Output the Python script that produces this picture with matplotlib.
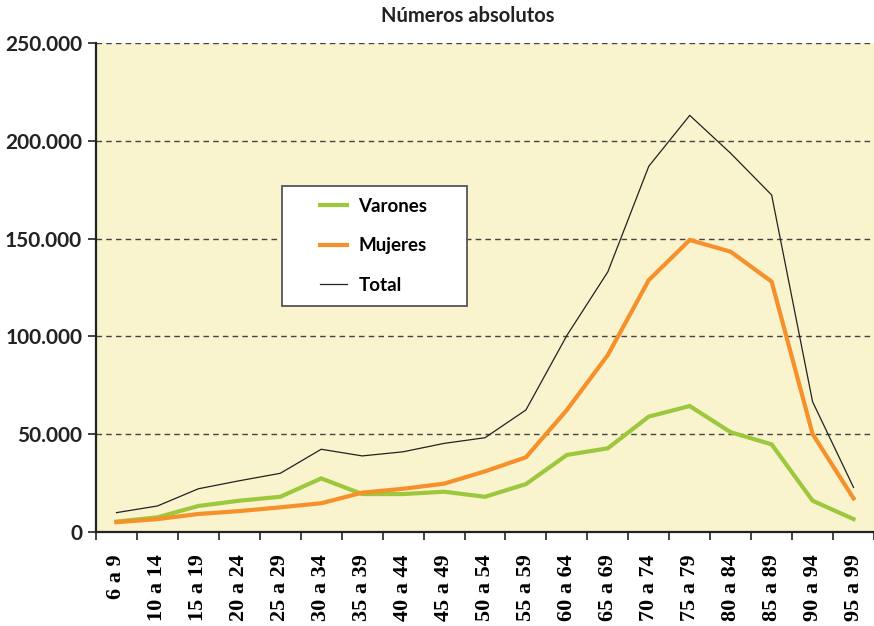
import matplotlib
matplotlib.use('Agg')
import matplotlib.pyplot as plt
from matplotlib.patches import Rectangle
from matplotlib.ticker import FuncFormatter
import numpy as np

# age groups
grupos = ['6 a 9', '10 a 14', '15 a 19', '20 a 24', '25 a 29', '30 a 34', '35 a 39',
          '40 a 44', '45 a 49', '50 a 54', '55 a 59', '60 a 64', '65 a 69', '70 a 74',
          '75 a 79', '80 a 84', '85 a 89', '90 a 94', '95 a 99']

varones = [5300, 7500, 13300, 16000, 18000, 27400, 19400, 19400, 20600, 18000,
           24500, 39400, 42800, 59000, 64400, 51000, 44800, 16000, 6600]
mujeres = [5000, 6600, 9200, 10700, 12600, 14700, 20100, 22100, 24700, 31000,
           38200, 62400, 90500, 128800, 149300, 143300, 128000, 50100, 17200]
total = [9900, 13300, 22100, 26200, 30000, 42300, 38900, 41000, 45300, 48200,
         62400, 100500, 133000, 187000, 213000, 193600, 172300, 66600, 22800]

y_ticks = [0, 50000, 100000, 150000, 200000, 250000]

fig = plt.figure(figsize=(8.74, 6.26), dpi=100)
fig.patch.set_facecolor('white')
ax = fig.add_axes([96/874, 94/626, 778/874, 489/626])
ax.set_facecolor('#F9F3CE')

x = np.arange(len(grupos))
ax.plot(x, varones, color='#9DC73C', lw=3.0, label='Varones', solid_joinstyle='miter', zorder=3)
ax.plot(x, mujeres, color='#F5902A', lw=3.0, label='Mujeres', solid_joinstyle='miter', zorder=3)
ax.plot(x, total, color='#222222', lw=0.9, label='Total', zorder=3)

ax.set_xlim(-0.5, len(grupos) - 0.5)
ax.set_ylim(0, 250000)

for v in y_ticks[1:]:
    ax.axhline(v, color='#444444', lw=1.0, ls=(0, (4, 3)), zorder=1)

ax.set_yticks(y_ticks)
ax.yaxis.set_major_formatter(FuncFormatter(lambda v, p: '{:,.0f}'.format(v).replace(',', '.')))
ax.tick_params(axis='y', direction='out', length=6, width=1.2, pad=4, labelsize=15, colors='#222222')
for lab in ax.get_yticklabels():
    lab.set_fontfamily('Lato')
    lab.set_fontweight('bold')

ax.set_xticks(x)
ax.set_xticklabels(grupos, rotation=90, fontfamily='Liberation Serif', fontweight='bold', fontsize=16)
ax.set_xticks(np.arange(-0.5, len(grupos), 1.0), minor=True)
ax.tick_params(axis='x', which='major', length=0, pad=16)
ax.tick_params(axis='x', which='minor', direction='out', length=6, width=1.2, color='#222222')

for s in ['top', 'right']:
    ax.spines[s].set_visible(False)
for s in ['left', 'bottom']:
    ax.spines[s].set_linewidth(1.6)
    ax.spines[s].set_color('#222222')

# legend box
ax.add_patch(Rectangle((186/778, 1 - 263/489), 185/778, 120/489, transform=ax.transAxes,
                       facecolor='white', edgecolor='#555555', lw=1.3, zorder=4))
lgd = ax.legend(loc='upper left', bbox_to_anchor=(224/778, 1 - 155/489), frameon=False,
                prop={'family': 'Lato', 'weight': 'bold', 'size': 13.5},
                handlelength=1.45, handletextpad=0.6, labelspacing=1.2, borderpad=0, borderaxespad=0)
lgd.set_zorder(5)

fig.text(468/874, 1 - 16/626, 'Números absolutos', ha='center', va='center',
         fontfamily='Lato', fontweight='bold', fontsize=14.5, color='#222222')

plt.savefig('out.png', dpi=100)
